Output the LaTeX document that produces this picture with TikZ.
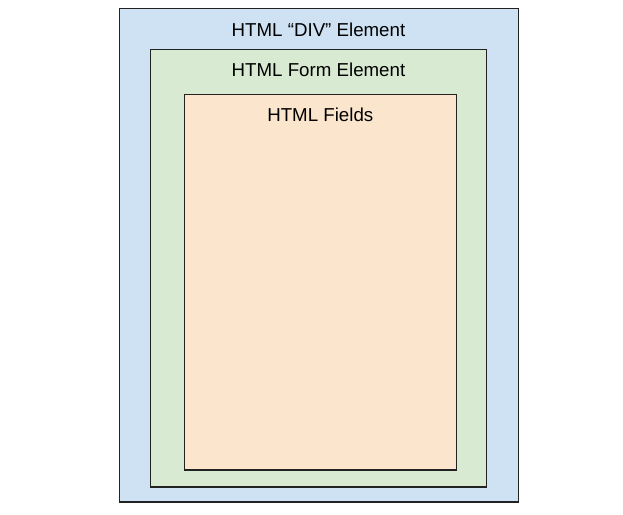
\documentclass[tikz,border=0pt]{standalone}
\usepackage{fontspec}
\setmainfont{Liberation Sans}
\definecolor{divblue}{HTML}{CFE2F3}
\definecolor{formgreen}{HTML}{D9EAD3}
\definecolor{fieldorange}{HTML}{FCE5CD}
\definecolor{edge}{HTML}{222222}
\begin{document}
\begin{tikzpicture}[x=1pt,y=-1pt,
  boxstyle/.style={draw=edge,line width=1.2pt},
  labelstyle/.style={font=\fontsize{18.7}{21}\selectfont,text=black,inner sep=0pt,anchor=base}]
\useasboundingbox (0,0) rectangle (623,514);
\fill[white] (0,0) rectangle (623,514);
\draw[boxstyle,fill=divblue] (119.3,8.5) rectangle (518.7,502);
\draw[boxstyle,fill=formgreen] (150.7,49.3) rectangle (486.7,487);
\draw[boxstyle,fill=fieldorange] (184.3,94.3) rectangle (456.3,470);
\node[labelstyle] (divlabel) at (318.5,36) {HTML “DIV” Element};
\node[labelstyle] (formlabel) at (318.5,76.5) {HTML Form Element};
\node[labelstyle] (fieldslabel) at (320.3,121.5) {HTML Fields};
\end{tikzpicture}
\end{document}
